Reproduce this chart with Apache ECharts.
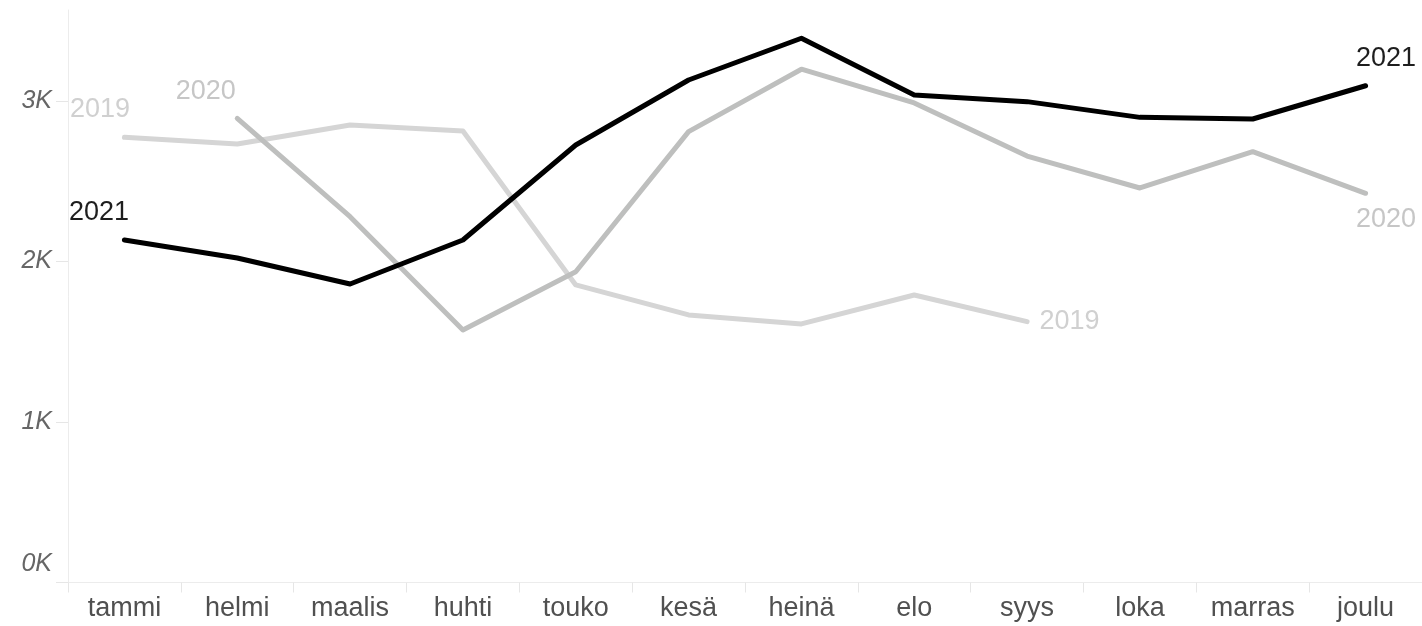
<!DOCTYPE html>
<html>
<head>
<meta charset="utf-8">
<script src="https://cdn.jsdelivr.net/npm/echarts@6/dist/echarts.min.js"></script>
<style>
html,body{margin:0;padding:0;background:#fff;}
#chart{width:1422px;height:626px;}
</style>
</head>
<body>
<div id="chart"></div>
<script>
var months = ['tammi','helmi','maalis','huhti','touko','kesä','heinä','elo','syys','loka','marras','joulu'];
var yTicks = [0, 1000, 2000, 3000];
var sales2019 = [2774, 2732, 2850, 2813, 1854, 1667, 1611, 1791, 1625, null, null, null];
var sales2020 = [null, 2892, 2279, 1573, 1936, 2809, 3198, 2988, 2657, 2458, 2684, 2425];
var sales2021 = [2134, 2022, 1860, 2134, 2726, 3131, 3391, 3037, 2996, 2898, 2888, 3095];

var FONT = '"Liberation Sans", Arial, sans-serif';

function withLabels(values, name, color, startOffset, endOffset) {
  var first = -1, last = -1;
  values.forEach(function (v, i) { if (v != null) { if (first < 0) first = i; last = i; } });
  return values.map(function (v, i) {
    if (v == null) return null;
    var off = i === first ? startOffset : (i === last ? endOffset : null);
    if (!off) return v;
    return {
      value: v,
      label: {
        show: true, formatter: name, position: off,
        align: 'center', verticalAlign: 'middle',
        color: color, fontSize: 27, fontFamily: FONT
      }
    };
  });
}

function lineSeries(name, values, lineColor, labelColor, z, so, eo) {
  return {
    name: name, type: 'line', z: z,
    data: withLabels(values, name, labelColor, so, eo),
    symbol: 'circle', symbolSize: 1, showSymbol: true,
    itemStyle: { color: lineColor },
    lineStyle: { color: lineColor, width: 5, join: 'round', cap: 'round' },
    emphasis: { disabled: true },
    connectNulls: false,
    animation: false
  };
}

var chart = echarts.init(document.getElementById('chart'), null, { renderer: 'canvas' });
chart.setOption({
  animation: false,
  grid: { left: 68, right: 0, top: 10, bottom: 43.5, containLabel: false },
  xAxis: {
    type: 'category', data: months, boundaryGap: true,
    axisLine: { show: true, lineStyle: { color: '#ececec', width: 1 } },
    axisTick: { show: true, length: 10, lineStyle: { color: '#e6e6e6' } },
    axisLabel: { color: '#505050', fontSize: 27, fontFamily: FONT, margin: 13 },
    splitLine: { show: false }
  },
  yAxis: {
    type: 'value', min: 0, max: 3567,
    axisLine: { show: true, lineStyle: { color: '#ececec', width: 1 } },
    axisTick: { show: true, length: 12, customValues: yTicks, lineStyle: { color: '#e6e6e6' } },
    axisLabel: {
      customValues: yTicks, margin: 16,
      color: '#666', fontSize: 25, fontStyle: 'italic', fontFamily: FONT,
      formatter: function (v) {
        var t = Math.round(v / 1000) + 'K';
        return v === 0 ? '{z|' + t + '}' : t;
      },
      rich: { z: { color: '#666', fontSize: 25, fontStyle: 'italic', fontFamily: FONT, padding: [0, 0, 36, 0] } }
    },
    splitLine: { show: false }
  },
  series: [
    lineSeries('2019', sales2019, '#d5d5d5', '#d0d0d0', 2, [-24, -27], [43, 0]),
    lineSeries('2020', sales2020, '#bebfbe', '#c6c6c6', 3, [-31, -26], [21, 27]),
    lineSeries('2021', sales2021, '#000000', '#1e1e1e', 4, [-25, -27], [21, -27])
  ]
});
</script>
</body>
</html>
